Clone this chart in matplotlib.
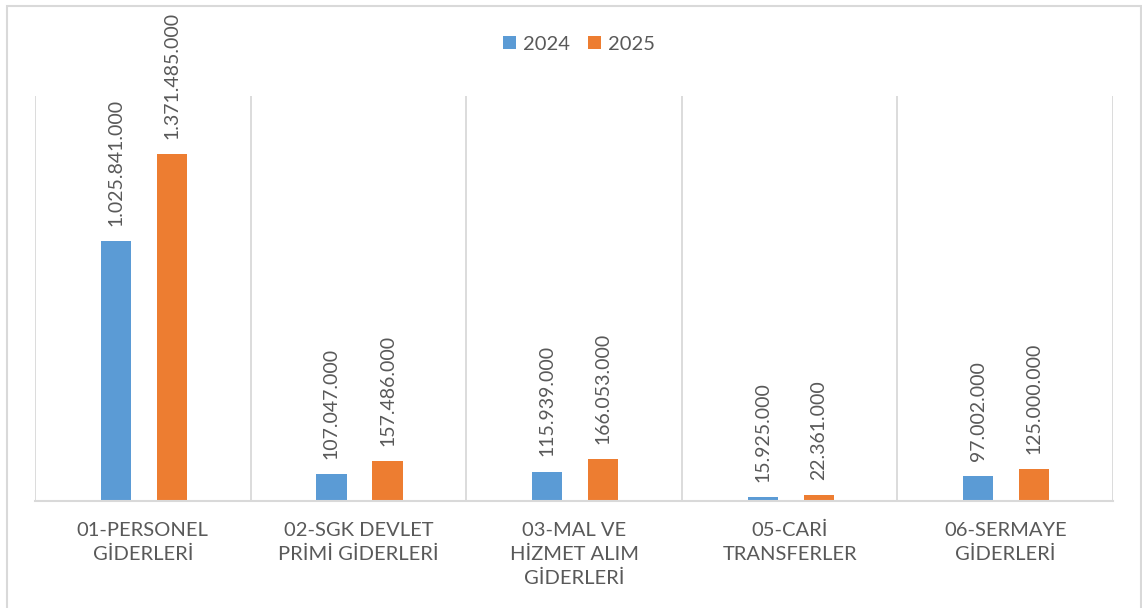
import matplotlib.pyplot as plt
import numpy as np
from matplotlib.patches import Rectangle

categories = ['01-PERSONEL\nGİDERLERİ', '02-SGK DEVLET\nPRİMİ GİDERLERİ',
              '03-MAL VE\nHİZMET ALIM\nGİDERLERİ', '05-CARİ\nTRANSFERLER',
              '06-SERMAYE\nGİDERLERİ']
values_2024 = [1025841000, 107047000, 115939000, 15925000, 97002000]
values_2025 = [1371485000, 157486000, 166053000, 22361000, 125000000]
series_names = ['2024', '2025']

plt.rcParams['font.family'] = ['Lato', 'DejaVu Sans']
text_color = '#595959'
grid_color = '#D9D9D9'

fig = plt.figure(figsize=(11.42, 6.08), dpi=100)
ax = fig.add_axes([35/1142, 1 - 501/608, (1113 - 35)/1142, (501 - 96)/608])

x = np.arange(len(categories))
off = 0.13
w = 0.14
b1 = ax.bar(x - off + 0.005, values_2024, w, color='#5B9BD5', label=series_names[0])
b2 = ax.bar(x + off + 0.005, values_2025, w, color='#ED7D31', label=series_names[1])

def fmt(v):
    return f'{v:,}'.replace(',', '.')

# etiquetas de datos giradas encima de cada barra
for bars, vals in ((b1, values_2024), (b2, values_2025)):
    for rect, v in zip(bars, vals):
        ax.annotate(fmt(v), (rect.get_x() + rect.get_width()/2, rect.get_height()),
                    xytext=(0, 11), textcoords='offset points', rotation=90,
                    ha='center', va='bottom', fontsize=14, color=text_color)

ax.set_xlim(-0.5, len(categories) - 0.5)
ax.set_ylim(0, 1.6e9)
ax.set_xticks(x)
ax.set_xticklabels(categories, fontsize=14.5, color=text_color, linespacing=1.5)
ax.set_xticks(np.arange(-0.5, len(categories)), minor=True)
ax.tick_params(axis='x', which='both', length=0, pad=15)
ax.set_yticks([])
ax.grid(which='minor', axis='x', color=grid_color, lw=1.3)
ax.set_axisbelow(True)
for s in ['top', 'left', 'right']:
    ax.spines[s].set_visible(False)
ax.spines['bottom'].set_color(grid_color)
ax.spines['bottom'].set_linewidth(1.5)

leg = fig.legend(loc='center', bbox_to_anchor=(579/1142, 1 - 44/608), ncol=2,
                 frameon=False, fontsize=14.5, handlelength=0.65, handleheight=0.65,
                 handletextpad=0.35, columnspacing=0.9)
for t in leg.get_texts():
    t.set_color(text_color)

fig.patches.append(Rectangle((7/1142, -0.02), (1141 - 7)/1142, 1.02 - 5.5/608,
                             transform=fig.transFigure, fill=False,
                             edgecolor=grid_color, lw=1.5))

fig.savefig('out.png', dpi=100)
